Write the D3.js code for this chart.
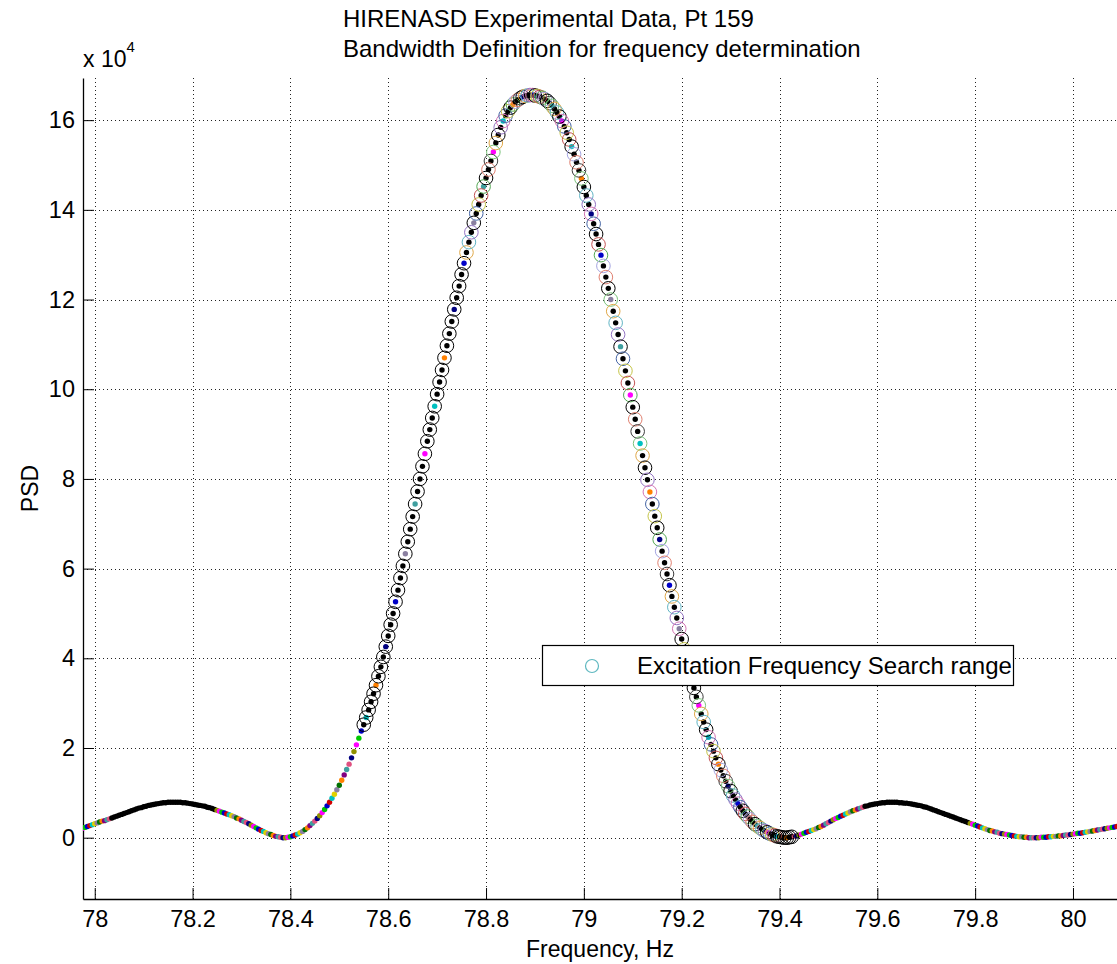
<!DOCTYPE html>
<html>
<head>
<meta charset="utf-8">
<script src="https://cdn.jsdelivr.net/npm/d3@7"></script>
<style>
  html, body { margin: 0; padding: 0; background: #fff; }
  svg { display: block; }
  text { font-family: Arial, "Liberation Sans", Helvetica, sans-serif; fill: #000; }
</style>
</head>
<body>
<svg id="chart" width="1117" height="964"></svg>
<script>
// ---------------- DATA ----------------
const titleLines = ["HIRENASD Experimental Data, Pt 159", "Bandwidth Definition for frequency determination"];
const xLabel = "Frequency, Hz";
const yLabel = "PSD";
const legendLabel = "Excitation Frequency Search range";

const xTicks = [78, 78.2, 78.4, 78.6, 78.8, 79, 79.2, 79.4, 79.6, 79.8, 80];
const yTicks = [0, 2, 4, 6, 8, 10, 12, 14, 16];   // x 10^4
const xLim = [77.976, 80.09];
const yLim = [-1.367, 16.94];

// Frequency bins (Hz)
const freq = [
77.975,77.98,77.985,77.99,77.995,
78.0,78.005,78.01,78.015,78.02,78.025,78.03,78.035,78.04,78.045,78.05,78.055,78.06,78.065,78.07,78.075,78.08,78.085,78.09,78.095,
78.1,78.105,78.11,78.115,78.12,78.125,78.13,78.135,78.14,78.145,78.15,78.155,78.16,78.165,78.17,78.175,78.18,78.185,78.19,78.195,
78.2,78.205,78.21,78.215,78.22,78.225,78.23,78.235,78.24,78.245,78.25,78.255,78.26,78.265,78.27,78.275,78.28,78.285,78.29,78.295,
78.3,78.305,78.31,78.315,78.32,78.325,78.33,78.335,78.34,78.345,78.35,78.355,78.36,78.365,78.37,78.375,78.38,78.385,78.39,78.395,
78.4,78.405,78.41,78.415,78.42,78.425,78.43,78.435,78.44,78.445,78.45,78.455,78.46,78.465,78.47,78.475,78.48,78.485,78.49,78.495,
78.5,78.505,78.51,78.515,78.52,78.525,78.53,78.535,78.54,78.545,78.55,78.555,78.56,78.565,78.57,78.575,78.58,78.585,78.59,78.595,
78.6,78.605,78.61,78.615,78.62,78.625,78.63,78.635,78.64,78.645,78.65,78.655,78.66,78.665,78.67,78.675,78.68,78.685,78.69,78.695,
78.7,78.705,78.71,78.715,78.72,78.725,78.73,78.735,78.74,78.745,78.75,78.755,78.76,78.765,78.77,78.775,78.78,78.785,78.79,78.795,
78.8,78.805,78.81,78.815,78.82,78.825,78.83,78.835,78.84,78.845,78.85,78.855,78.86,78.865,78.87,78.875,78.88,78.885,78.89,78.895,
78.9,78.905,78.91,78.915,78.92,78.925,78.93,78.935,78.94,78.945,78.95,78.955,78.96,78.965,78.97,78.975,78.98,78.985,78.99,78.995,
79.0,79.005,79.01,79.015,79.02,79.025,79.03,79.035,79.04,79.045,79.05,79.055,79.06,79.065,79.07,79.075,79.08,79.085,79.09,79.095,
79.1,79.105,79.11,79.115,79.12,79.125,79.13,79.135,79.14,79.145,79.15,79.155,79.16,79.165,79.17,79.175,79.18,79.185,79.19,79.195,
79.2,79.205,79.21,79.215,79.22,79.225,79.23,79.235,79.24,79.245,79.25,79.255,79.26,79.265,79.27,79.275,79.28,79.285,79.29,79.295,
79.3,79.305,79.31,79.315,79.32,79.325,79.33,79.335,79.34,79.345,79.35,79.355,79.36,79.365,79.37,79.375,79.38,79.385,79.39,79.395,
79.4,79.405,79.41,79.415,79.42,79.425,79.43,79.435,79.44,79.445,79.45,79.455,79.46,79.465,79.47,79.475,79.48,79.485,79.49,79.495,
79.5,79.505,79.51,79.515,79.52,79.525,79.53,79.535,79.54,79.545,79.55,79.555,79.56,79.565,79.57,79.575,79.58,79.585,79.59,79.595,
79.6,79.605,79.61,79.615,79.62,79.625,79.63,79.635,79.64,79.645,79.65,79.655,79.66,79.665,79.67,79.675,79.68,79.685,79.69,79.695,
79.7,79.705,79.71,79.715,79.72,79.725,79.73,79.735,79.74,79.745,79.75,79.755,79.76,79.765,79.77,79.775,79.78,79.785,79.79,79.795,
79.8,79.805,79.81,79.815,79.82,79.825,79.83,79.835,79.84,79.845,79.85,79.855,79.86,79.865,79.87,79.875,79.88,79.885,79.89,79.895,
79.9,79.905,79.91,79.915,79.92,79.925,79.93,79.935,79.94,79.945,79.95,79.955,79.96,79.965,79.97,79.975,79.98,79.985,79.99,79.995,
80.0,80.005,80.01,80.015,80.02,80.025,80.03,80.035,80.04,80.045,80.05,80.055,80.06,80.065,80.07,80.075,80.08,80.085,80.09
];

// PSD values (x 10^4)
const psd = [
0.21,0.23,0.25,0.27,0.29,
0.31,0.33,0.35,0.37,0.38,0.40,0.42,0.44,0.46,0.48,0.50,0.52,0.54,0.56,0.58,0.60,0.62,0.64,0.66,0.67,
0.69,0.70,0.72,0.73,0.74,0.75,0.76,0.77,0.78,0.78,0.79,0.79,0.79,0.79,0.79,0.79,0.78,0.78,0.77,0.76,
0.75,0.74,0.73,0.72,0.71,0.70,0.68,0.67,0.65,0.63,0.61,0.59,0.57,0.55,0.53,0.51,0.49,0.47,0.44,0.42,
0.39,0.36,0.34,0.31,0.28,0.25,0.22,0.19,0.16,0.14,0.11,0.09,0.07,0.05,0.03,0.02,0.01,0.00,0.00,0.01,
0.02,0.04,0.06,0.08,0.11,0.14,0.18,0.22,0.27,0.32,0.37,0.43,0.49,0.56,0.63,0.71,0.79,0.88,0.97,1.07,
1.17,1.28,1.40,1.52,1.64,1.78,1.92,2.07,2.22,2.38,2.52,2.68,2.85,3.03,3.21,3.40,3.60,3.81,4.03,4.26,
4.50,4.75,5.00,5.26,5.52,5.79,6.06,6.33,6.60,6.88,7.16,7.44,7.72,8.00,8.28,8.56,8.84,9.10,9.36,9.62,
9.89,10.16,10.43,10.70,10.97,11.24,11.51,11.78,12.04,12.30,12.56,12.81,13.05,13.28,13.50,13.71,13.92,14.12,14.32,14.52,
14.71,14.90,15.09,15.29,15.49,15.67,15.84,15.98,16.10,16.20,16.28,16.35,16.41,16.45,16.49,16.52,16.54,16.55,16.56,16.56,
16.55,16.54,16.52,16.50,16.47,16.43,16.38,16.32,16.25,16.17,16.08,15.98,15.86,15.72,15.57,15.41,15.24,15.06,14.88,14.70,
14.51,14.32,14.12,13.91,13.69,13.46,13.23,12.99,12.75,12.50,12.25,12.00,11.74,11.48,11.22,10.95,10.68,10.41,10.14,9.87,
9.60,9.33,9.06,8.79,8.52,8.25,7.98,7.71,7.44,7.17,6.91,6.65,6.39,6.13,5.88,5.63,5.38,5.14,4.90,4.66,
4.43,4.20,3.98,3.76,3.55,3.34,3.14,2.95,2.76,2.58,2.41,2.24,2.08,1.93,1.78,1.64,1.51,1.38,1.26,1.15,
1.04,0.94,0.85,0.76,0.68,0.60,0.53,0.47,0.41,0.35,0.30,0.26,0.22,0.18,0.15,0.12,0.09,0.07,0.05,0.03,
0.02,0.01,0.00,0.00,0.01,0.02,0.03,0.04,0.06,0.08,0.10,0.12,0.14,0.16,0.18,0.20,0.23,0.25,0.28,0.31,
0.34,0.37,0.40,0.43,0.45,0.48,0.50,0.53,0.55,0.58,0.60,0.62,0.64,0.66,0.68,0.70,0.71,0.73,0.74,0.75,
0.76,0.77,0.78,0.78,0.79,0.79,0.79,0.79,0.79,0.78,0.78,0.77,0.77,0.76,0.75,0.74,0.73,0.72,0.71,0.69,
0.68,0.66,0.64,0.62,0.60,0.58,0.56,0.54,0.52,0.50,0.48,0.46,0.44,0.42,0.40,0.38,0.36,0.34,0.32,0.30,
0.28,0.26,0.24,0.22,0.20,0.18,0.16,0.15,0.13,0.12,0.10,0.09,0.08,0.07,0.06,0.05,0.04,0.03,0.02,0.02,
0.01,0.01,0.00,0.00,0.00,0.00,0.00,0.01,0.01,0.01,0.02,0.02,0.03,0.03,0.04,0.04,0.05,0.06,0.06,0.07,
0.08,0.09,0.10,0.10,0.11,0.12,0.13,0.14,0.15,0.16,0.17,0.18,0.19,0.20,0.21,0.22,0.23,0.24,0.25
];

// Frequency search range (circled points) and ranges of black markers
const searchRange = [78.548, 79.427];
const blackDotRanges = [[78.035, 78.245], [79.572, 79.785]];
const blackCircleRanges = [[78.548, 78.757], [79.392, 79.427]];

const dotPalette = ["#ff00ff", "#00c800", "#0000c8", "#d00000", "#00c0c0", "#e0d000", "#8a7fa0",
                    "#007000", "#ff8000", "#800080", "#3f9f9f", "#e05080", "#000080", "#909000"];
const circlePalette = ["#7cc47c", "#e0a848", "#60b4c4", "#9474c4", "#d474b4", "#4464a4",
                       "#c4c448", "#c45454", "#54a854", "#a4a4e0", "#e08070", "#3c3c3c"];
const legendMarkerColor = "#5fb8c0";

// ---------------- LAYOUT ----------------
const svg = d3.select("#chart");
const W = 1117, H = 964;
const plot = { left: 83, right: 1117, top: 78, bottom: 899 };

const x = d3.scaleLinear().domain(xLim).range([plot.left, plot.right]);
const y = d3.scaleLinear().domain(yLim).range([plot.bottom, plot.top]);

const points = freq.map((f, i) => ({ f, v: psd[i], i }));
const inRanges = (f, ranges) => ranges.some(r => f >= r[0] && f <= r[1]);

svg.append("rect").attr("width", W).attr("height", H).attr("fill", "#fff");

// Grid
const grid = svg.append("g").attr("stroke", "#222").attr("stroke-width", 1)
  .attr("stroke-dasharray", "1,3");
grid.selectAll(".vg").data(xTicks).join("line")
  .attr("x1", d => Math.round(x(d)) + 0.5).attr("x2", d => Math.round(x(d)) + 0.5)
  .attr("y1", plot.top).attr("y2", plot.bottom);
grid.selectAll(".hg").data(yTicks).join("line")
  .attr("y1", d => Math.round(y(d)) + 0.5).attr("y2", d => Math.round(y(d)) + 0.5)
  .attr("x1", plot.left).attr("x2", plot.right);

// Axes
const fontSize = 23.5;
const xAxis = d3.axisBottom(x).tickValues(xTicks)
  .tickFormat(d => String(+d.toFixed(1)))
  .tickSizeInner(-11).tickSizeOuter(0).tickPadding(11);
const yAxis = d3.axisLeft(y).tickValues(yTicks)
  .tickFormat(d => String(d))
  .tickSizeInner(-11).tickSizeOuter(0).tickPadding(8);

const gx = svg.append("g").attr("transform", `translate(0,${plot.bottom})`).call(xAxis);
const gy = svg.append("g").attr("transform", `translate(${plot.left},0)`).call(yAxis);
[gx, gy].forEach(g => {
  g.selectAll("text").style("font-size", fontSize + "px")
    .style("font-family", 'Arial, "Liberation Sans", Helvetica, sans-serif').attr("fill", "#000");
  g.selectAll("line").attr("stroke", "#000");
  g.select(".domain").attr("stroke", "#000").attr("stroke-width", 1.3);
});

// Clip
svg.append("clipPath").attr("id", "clip").append("rect")
  .attr("x", plot.left).attr("y", plot.top).attr("width", plot.right - plot.left).attr("height", plot.bottom - plot.top);

const marks = svg.append("g").attr("clip-path", "url(#clip)");

// Small dot markers (all samples)
marks.append("g").selectAll("circle").data(points).join("circle")
  .attr("cx", d => x(d.f)).attr("cy", d => y(d.v)).attr("r", 2.7)
  .attr("fill", d => {
    if (inRanges(d.f, blackDotRanges)) return "#000";
    if (d.f >= searchRange[0] && d.f <= searchRange[1]) {
      return d.i % 4 === 0 ? dotPalette[d.i % dotPalette.length] : "#000";
    }
    return dotPalette[d.i % dotPalette.length];
  });

// Circle markers in search range
const circled = points.filter(d => d.f >= searchRange[0] && d.f <= searchRange[1]);
marks.append("g").selectAll("circle").data(circled).join("circle")
  .attr("cx", d => x(d.f)).attr("cy", d => y(d.v)).attr("r", 6.8)
  .attr("fill", "none").attr("stroke-width", 1)
  .attr("stroke", d => {
    if (inRanges(d.f, blackCircleRanges)) return "#000";
    return d.i % 5 === 0 ? "#000" : circlePalette[d.i % circlePalette.length];
  });

// Titles
svg.append("g").selectAll("text").data(titleLines).join("text")
  .attr("x", 343).attr("y", (d, i) => 27 + i * 30)
  .style("font-size", "24px").text(d => d);

// Exponent label
const expo = svg.append("text").attr("x", 83).attr("y", 67).style("font-size", "23px");
expo.append("tspan").text("x 10");
expo.append("tspan").attr("dy", -15).style("font-size", "15px").text("4");

// Axis labels
svg.append("text").attr("x", (plot.left + plot.right) / 2).attr("y", 957)
  .attr("text-anchor", "middle").style("font-size", "23px").text(xLabel);
svg.append("text").attr("transform", `translate(38,${(plot.top + plot.bottom) / 2}) rotate(-90)`)
  .attr("text-anchor", "middle").style("font-size", "23px").text(yLabel);

// Legend
const lg = svg.append("g");
lg.append("rect").attr("x", 542.5).attr("y", 645.5).attr("width", 471).attr("height", 40)
  .attr("fill", "#fff").attr("stroke", "#000").attr("stroke-width", 1.2);
lg.append("circle").attr("cx", 592).attr("cy", 666).attr("r", 6.5)
  .attr("fill", "none").attr("stroke", legendMarkerColor).attr("stroke-width", 1.2);
lg.append("text").attr("x", 637).attr("y", 674).style("font-size", "24px").text(legendLabel);
</script>
</body>
</html>
